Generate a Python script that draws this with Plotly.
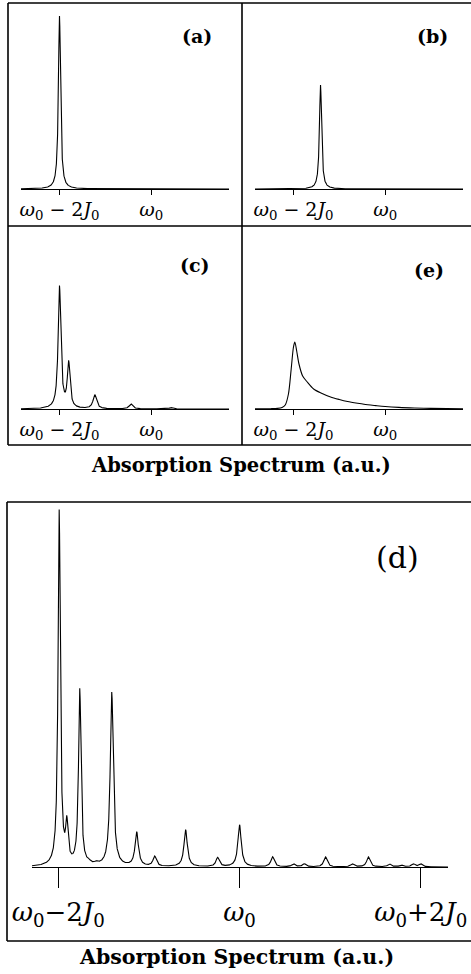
import numpy as np
import plotly.graph_objects as go

W, H = 471, 974

# ---------------- data ----------------
# Lorentzian lines: centre (units of J0 relative to w0), height (a.u.), half-width (units of J0)
a_pos = [-2.0]
a_height = [173]
a_width = [0.028]

b_pos = [-1.41]
b_height = [104]
b_width = [0.028]

c_pos = [-2.0, -1.80, -1.23, -0.44, 0.44]
c_height = [122, 45, 14, 5, 1.5]
c_width = [0.035, 0.035, 0.045, 0.045, 0.045]

d_pos = [-1.99, -1.906, -1.763, -1.66, -1.58, -1.41, -1.135, -0.937, -0.595, -0.242,
         0.0, 0.364, 0.595, 0.716, 0.948, 1.245, 1.421, 1.653, 1.785, 1.917, 2.0]
d_height = [355, 38, 176, 2, 2, 174, 34, 10, 37, 9,
            42, 10, 3, 3, 10, 3, 10, 3, 2, 3, 3]
d_width = [0.015, 0.016, 0.016, 0.02, 0.02, 0.02, 0.022, 0.022, 0.022, 0.022,
           0.022, 0.022, 0.022, 0.022, 0.022, 0.022, 0.022, 0.022, 0.022, 0.022, 0.022]

# panel (e): asymmetric band, sampled points
e_x = [-2.84, -2.5, -2.35, -2.25, -2.18, -2.11, -2.05, -2.0, -1.97, -1.93, -1.88, -1.80,
       -1.70, -1.56, -1.40, -1.19, -1.00, -0.82, -0.60, -0.46, -0.20, 0.0, 0.3, 0.64, 1.0, 1.70]
e_y = [0.1, 0.3, 0.6, 1.5, 4, 15, 40, 62, 67, 58, 45, 33,
       27, 20, 16, 12, 9.5, 7.5, 5.7, 4.7, 3.4, 2.5, 1.6, 1.0, 0.6, 0.3]

top_tickvals = [-2, 0]
top_ticktext = ["<i>ω</i><sub>0</sub> − 2<i>J</i><sub>0</sub>", "<i>ω</i><sub>0</sub>"]
d_tickvals = [-2, 0, 2]
d_ticktext = ["<i>ω</i><sub>0</sub>−2<i>J</i><sub>0</sub>", "<i>ω</i><sub>0</sub>",
              "<i>ω</i><sub>0</sub>+2<i>J</i><sub>0</sub>"]

panel_labels = ["(a)", "(b)", "(c)", "(e)", "(d)"]
xlabel = "Absorption Spectrum (a.u.)"


def spectrum(x, pos, hgt, wid):
    y = np.zeros_like(x)
    for p, h, g in zip(pos, hgt, wid):
        y += h * g * g / ((x - p) ** 2 + g * g)
    return y


# ---------------- layout geometry (pixels) ----------------
def px(xp):
    return xp / W


def py(yp):
    return 1 - yp / H


FONT = "DejaVu Serif"
TOP_RANGE = [-2.84, 1.70]
D_RANGE = [-2.29, 2.30]

panels = [
    # name, x0, x1, ybase, ytop, xrange
    ("a", 21, 229, 189, 10, TOP_RANGE),
    ("b", 255, 463, 189, 10, TOP_RANGE),
    ("c", 21, 229, 409, 233, TOP_RANGE),
    ("e", 255, 463, 409, 233, TOP_RANGE),
    ("d", 32, 448, 867, 505, D_RANGE),
]

fig = go.Figure()

x_top = np.linspace(TOP_RANGE[0], TOP_RANGE[1], 5000)
x_d = np.linspace(D_RANGE[0], D_RANGE[1], 9000)

series = {
    "a": (x_top, spectrum(x_top, a_pos, a_height, a_width)),
    "b": (x_top, spectrum(x_top, b_pos, b_height, b_width)),
    "c": (x_top, spectrum(x_top, c_pos, c_height, c_width)),
    "e": (np.array(e_x), np.array(e_y)),
    "d": (x_d, spectrum(x_d, d_pos, d_height, d_width)),
}

layout = dict(
    width=W, height=H,
    margin=dict(l=0, r=0, t=0, b=0, pad=0, autoexpand=False),
    paper_bgcolor="white", plot_bgcolor="white", showlegend=False,
    font=dict(family=FONT, color="black"),
)

for i, (name, x0, x1, yb, yt, xr) in enumerate(panels, start=1):
    xs, ys = series[name]
    sfx = "" if i == 1 else str(i)
    fig.add_trace(go.Scatter(
        x=xs, y=ys, mode="lines",
        line=dict(color="black", width=1.1, shape="spline" if name == "e" else "linear",
                  smoothing=0.8 if name == "e" else None),
        xaxis="x" + sfx, yaxis="y" + sfx, hoverinfo="skip",
    ))
    is_d = name == "d"
    layout["xaxis" + sfx] = dict(
        domain=[px(x0), px(x1)], range=xr, anchor="y" + sfx,
        showline=True, linecolor="black", linewidth=1,
        ticks="outside", ticklen=20 if is_d else 5, tickwidth=1, tickcolor="black",
        tickvals=d_tickvals if is_d else top_tickvals,
        ticktext=d_ticktext if is_d else top_ticktext,
        tickfont=dict(family=FONT, size=26 if is_d else 19, color="black"),
        ticklabelstandoff=2 if is_d else -2,
        showgrid=False, zeroline=False, fixedrange=True, automargin=False,
    )
    layout["yaxis" + sfx] = dict(
        domain=[py(yb), py(yt)], range=[0, yb - yt], anchor="x" + sfx,
        visible=False, showgrid=False, zeroline=False, fixedrange=True, automargin=False,
    )

fig.update_layout(**layout)

# frames
line = dict(color="black", width=1.6)
frame_lines = [
    (8, 3, 8, 445), (8, 3, 471, 3), (8, 445, 471, 445),
    (242, 3, 242, 445), (8, 226, 471, 226),
    (7, 502, 7, 941), (7, 502, 471, 502), (7, 941, 471, 941),
]
for xa, ya, xb, yb2 in frame_lines:
    fig.add_shape(type="line", xref="paper", yref="paper",
                  x0=px(xa), y0=py(ya), x1=px(xb), y1=py(yb2), line=line)

# panel labels
label_pos = [(197, 36, 19, True), (432, 36, 19, True), (195, 265, 19, True),
             (429, 270, 19, True), (397, 557, 30, False)]
for txt, (lx, ly, size, bold) in zip(panel_labels, label_pos):
    fig.add_annotation(x=px(lx), y=py(ly), xref="paper", yref="paper",
                       text=f"<b>{txt}</b>" if bold else txt, showarrow=False,
                       font=dict(family=FONT, size=size, color="black"),
                       xanchor="center", yanchor="middle")

for lx, ly, sz in [(241, 466, 19.5), (236, 957, 20.5)]:
    fig.add_annotation(x=px(lx), y=py(ly), xref="paper", yref="paper",
                       text=f"<b>{xlabel}</b>", showarrow=False,
                       font=dict(family=FONT, size=sz, color="black"),
                       xanchor="center", yanchor="middle")

fig.write_html("out.html", config={"displayModeBar": False},
               post_script="document.body.style.margin='0';")
